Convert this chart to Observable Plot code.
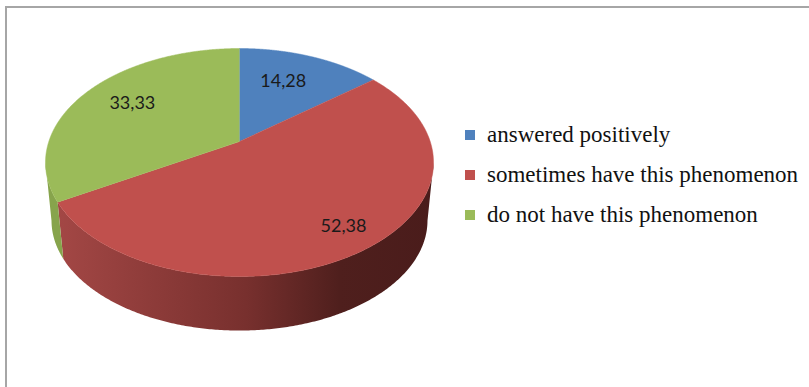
<!DOCTYPE html>
<html>
<head>
<meta charset="utf-8">
<script src="https://cdn.jsdelivr.net/npm/d3@7"></script>
<script src="https://cdn.jsdelivr.net/npm/@observablehq/plot@0.6"></script>
<style>
  html, body { margin: 0; background: #fff; }
  #chart { position: relative; width: 809px; height: 387px; overflow: hidden; }
  #chart svg { display: block; }
  #box { position: absolute; left: 5px; top: 6px; width: 900px; height: 500px;
         border-left: 2px solid #a6a6a6; border-top: 2px solid #a6a6a6; pointer-events: none; }
  #legend { position: absolute; left: 465px; top: 115px; font: 23px "Liberation Serif", serif; color: #111; }
  #legend div { display: flex; align-items: center; height: 40px; white-space: nowrap; }
  #legend i { width: 10px; height: 10px; margin-right: 12px; flex: none; }
</style>
</head>
<body>
<div id="chart"><div id="box"></div></div>
<script>
const categories = ["answered positively", "sometimes have this phenomenon", "do not have this phenomenon"];
const shares = [14.28, 52.38, 33.33];
const faceColors = ["#4f81bd", "#c0504d", "#9bbb59"];
const labelReach = [0.65, 0.83, 0.71];
const labelShiftX = [-0.025, 0.01, 0.015];

// Tilted disc: the hub sits above the centre of the rim ellipse.
const hub = -0.184;
const squash = Math.sqrt(1 - hub * hub);
const total = d3.sum(shares);

function rim(turn, reach = 1) {
  const a = turn * 2 * Math.PI;
  const u = reach * Math.sin(a), v = -reach * Math.cos(a);
  const d = 1 + hub * v;
  return {x: u * squash / d, y: (v + hub) / d};
}
// Lower rim of the disc's side wall
const drop = p => ({x: p.x * 0.969, y: p.y * 0.965 + 0.509});

const starts = d3.cumsum([0, ...shares]).map(s => s / total);
const arc = i => d3.range(0, 361).map(k => starts[i] + (starts[i + 1] - starts[i]) * k / 360);

const faces = categories.flatMap((name, i) => [
  {name, ...rim(0, 0)},
  ...arc(i).map(t => ({name, ...rim(t)}))
]);
const walls = categories.flatMap((name, i) => {
  const edge = arc(i).map(t => rim(t)).filter(p => p.y >= 0);
  return [...edge, ...edge.map(drop).reverse()].map(p => ({name, ...p}));
});
const labels = categories.map((name, i) => {
  const p = rim((starts[i] + starts[i + 1]) / 2, labelReach[i]);
  return {text: d3.format(".2f")(shares[i]).replace(".", ","), x: p.x + labelShiftX[i], y: p.y};
});

const wallOf = name => walls.filter(d => d.name === name);

function gradients() {
  const defs = d3.create("svg:defs");
  const g = defs.append("linearGradient").attr("id", "redWall");
  [[0, "#a34745"], [0.5, "#78302e"], [0.75, "#4f1f1d"], [1, "#4a1c1b"]].forEach(([o, c]) =>
    g.append("stop").attr("offset", o).attr("stop-color", c));
  return defs.node();
}

const plot = Plot.plot({
  width: 809, height: 387, margin: 0,
  x: {domain: [-239 / 194, 570 / 194], range: [0, 809], axis: null},
  y: {domain: [-162 / 114, 225 / 114], range: [0, 387], axis: null},
  color: {domain: categories, range: faceColors},
  marks: [
    gradients,
    Plot.line(wallOf(categories[1]), {x: "x", y: "y", fill: "url(#redWall)", stroke: "none"}),
    Plot.line(wallOf(categories[2]), {x: "x", y: "y", fill: "#87a44c", stroke: "none"}),
    Plot.line(faces, {x: "x", y: "y", z: "name", fill: "name", stroke: "name", strokeWidth: 0.5}),
    Plot.text(labels, {x: "x", y: "y", dy: -2, text: "text", fontSize: 18, fontFamily: "Lato", fill: "#1a1a1a"})
  ]
});
const chart = document.getElementById("chart");
chart.prepend(plot);

const legend = d3.select(chart).append("div").attr("id", "legend");
categories.forEach((name, i) => {
  const row = legend.append("div");
  row.append("i").style("background", faceColors[i]);
  row.append("span").text(name);
});
</script>
</body>
</html>
